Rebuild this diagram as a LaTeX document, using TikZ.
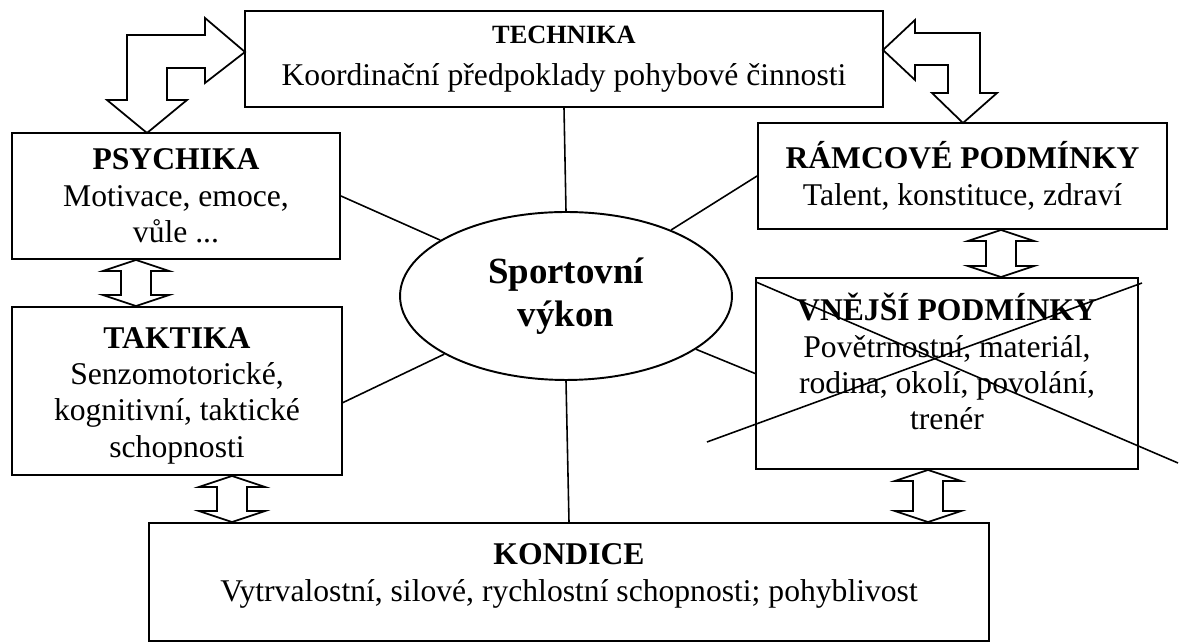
\documentclass[tikz,border=0pt]{standalone}
\usepackage{fontspec}
\setmainfont{Liberation Serif}
\usetikzlibrary{calc,shapes.geometric}

% hollow arrow with a head at both ends, #1 = x, between #2 (above) and #3 (below)
\newcommand{\twohead}[3]{%
  \draw[blockarrow] (#1,0 |- #2.south) -- ($(#1,0 |- #2.south)+(33,11)$) -- ($(#1,0 |- #2.south)+(15,11)$)
    -- ($(#1,0 |- #3.north)+(15,-11)$) -- ($(#1,0 |- #3.north)+(33,-11)$) -- (#1,0 |- #3.north)
    -- ($(#1,0 |- #3.north)+(-33,-11)$) -- ($(#1,0 |- #3.north)+(-15,-11)$)
    -- ($(#1,0 |- #2.south)+(-15,11)$) -- ($(#1,0 |- #2.south)+(-33,11)$) -- cycle;}

\begin{document}
\begin{tikzpicture}[x=0.02cm, y=-0.02cm,
  box/.style={draw, line width=1.1pt, inner sep=0pt, align=center, font=\fontsize{18}{20.7}\selectfont},
  link/.style={line width=0.9pt},
  blockarrow/.style={line width=1pt, fill=white, line join=miter}]
\useasboundingbox (0,0) rectangle (1181,644);

% boxes
\node[box, minimum width=12.76cm, minimum height=1.92cm] (technika) at (564,59)
  {{\fontsize{15}{17}\selectfont\bfseries TECHNIKA}\\[3pt]Koordinační předpoklady pohybové činnosti};
\node[box, minimum width=6.56cm, minimum height=2.52cm] (psychika) at (176,196)
  {\textbf{PSYCHIKA}\\Motivace, emoce,\\vůle ...};
\node[box, minimum width=6.6cm, minimum height=3.36cm] (taktika) at (177,391)
  {\textbf{TAKTIKA}\\Senzomotorické,\\kognitivní, taktické\\schopnosti\\[-22pt]\mbox{}};
\node[box, minimum width=8.18cm, minimum height=2.12cm] (ramcove) at (962.5,176)
  {\textbf{RÁMCOVÉ PODMÍNKY}\\Talent, konstituce, zdraví};
\node[box, minimum width=7.64cm, minimum height=3.82cm] (vnejsi) at (947,373.5)
  {\textbf{VNĚJŠÍ PODMÍNKY}\\Povětrnostní, materiál,\\rodina, okolí, povolání,\\trenér\\[-7pt]\mbox{}};
\node[box, minimum width=16.8cm, minimum height=2.36cm] (kondice) at (569,582)
  {\textbf{KONDICE}\\Vytrvalostní, silové, rychlostní schopnosti; pohyblivost\\[-10pt]\mbox{}};
\node[ellipse, draw, line width=1.1pt, inner sep=0pt, minimum width=6.64cm, minimum height=3.36cm,
  align=center, font=\fontsize{21}{24.2}\selectfont\bfseries] (sport) at (566,296) {Sportovní\\výkon};

% lines to the centre
\draw[link] (technika.south) -- (sport.north);
\draw[link] (sport.south) -- (kondice.north);
\draw[link] (psychika.east) -- (sport);
\draw[link] (taktika.-4) -- (sport);
\draw[link] (ramcove.west) -- (sport);
\draw[link] (vnejsi.west) -- (sport);

% crossed out
\draw[link] (756,282) -- (1178,463);
\draw[link] (707,442) -- (1142,283);

% two-headed arrows
\twohead{136}{psychika}{taktika}
\twohead{232}{taktika}{kondice}
\twohead{1001}{ramcove}{vnejsi}
\twohead{928}{vnejsi}{kondice}

% bent arrows at the top
\draw[blockarrow] (147,133) -- (187,100) -- (167,100) -- (167,68) -- (205,68) -- (205,83) -- (245,52)
  -- (205,18) -- (205,35) -- (127,35) -- (127,100) -- (107,100) -- cycle;
\draw[blockarrow] (883,50) -- (915,20) -- (915,33) -- (980,33) -- (980,93) -- (997,93) -- (963,123)
  -- (932,93) -- (948,93) -- (948,65) -- (915,65) -- (915,80) -- cycle;
\end{tikzpicture}
\end{document}
